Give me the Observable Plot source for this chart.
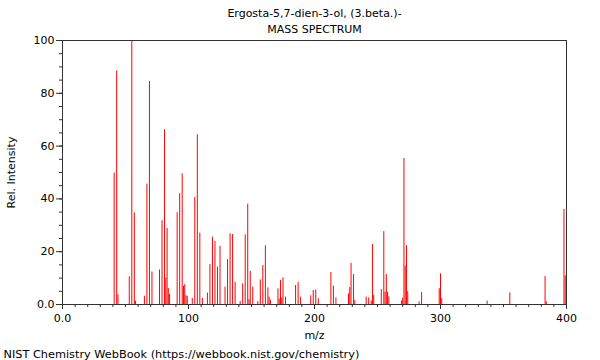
<!DOCTYPE html>
<html>
<head>
<meta charset="utf-8">
<script src="https://cdn.jsdelivr.net/npm/d3@7"></script>
<script src="https://cdn.jsdelivr.net/npm/@observablehq/plot@0.6"></script>
<style>
  html, body { margin: 0; padding: 0; background: #fff; }
  #chart svg { display: block; }
</style>
</head>
<body>
<div id="chart"></div>
<script>
const titleLines = ["Ergosta-5,7-dien-3-ol, (3.beta.)-", "MASS SPECTRUM"];
const xLabel = "m/z";
const yLabel = "Rel. Intensity";
const caption = "NIST Chemistry WebBook (https://webbook.nist.gov/chemistry)";

const mz = [41, 43, 44, 53, 55, 57, 58, 65, 67, 69, 71, 77, 79, 81, 82, 83, 84, 85,
  91, 93, 95, 96, 97, 98, 99, 103, 105, 107, 109, 111, 115, 117, 119, 121, 123, 125,
  129, 131, 133, 135, 137, 141, 143, 145, 147, 148, 149, 151, 155, 157, 159, 161, 163,
  164, 165, 171, 172, 173, 174, 175, 177, 185, 187, 189, 197, 199, 201, 203, 213, 215,
  217, 227, 228, 229, 231, 232, 241, 243, 245, 246, 247, 253, 255, 256, 257, 258, 259,
  269, 270, 271, 272, 273, 274, 283, 285, 299, 300, 301, 337, 355, 383, 384, 398, 399];
const intensity = [49.8, 88.5, 3.7, 10.5, 100, 34.7, 1.3, 3.1, 45.6, 84.5, 12.3, 13.1, 31.7, 66.2, 10, 28.8, 6, 3.8,
  34.8, 42, 49.5, 6.9, 7.5, 3.3, 3.1, 2.3, 40.6, 64.3, 27, 2.3, 4.3, 15.1, 25.5, 23.9, 14.1, 22,
  6.6, 17, 26.8, 26.5, 8.4, 1.1, 7.8, 26.4, 38, 1.8, 12.5, 6.6, 1.1, 9.3, 14.8, 22.2, 6.3,
  2.8, 1.6, 5.9, 2, 9.1, 2.5, 10.1, 2.8, 7.2, 8.3, 2.8, 3.3, 5.3, 5.5, 2.2, 12.1, 7,
  2.5, 4, 6.4, 15.6, 11.3, 1.5, 2.8, 2.5, 1.3, 22.7, 3.5, 5.7, 27.6, 4.7, 11.4, 4.7, 2.9,
  1.3, 2.4, 55.3, 14.6, 22.3, 4.9, 1, 4.5, 6, 11.6, 2.2, 1.3, 4.4, 10.6, 1, 36, 10.9];

const xTicks = [0, 100, 200, 300, 400];
const xTickLabels = ["0.0", "100", "200", "300", "400"];
const yTicks = [0, 20, 40, 60, 80, 100];
const yTickLabels = ["0.0", "20", "40", "60", "80", "100"];
const xMinorTicks = d3.range(0, 401, 10);
const yMinorTicks = d3.range(0, 101, 5);

const peaks = mz.map((m, i) => ({mz: m, intensity: intensity[i]}));

const chart = Plot.plot({
  width: 600,
  height: 360,
  marginLeft: 62,
  marginRight: 34,
  marginTop: 40,
  marginBottom: 56,
  style: {fontFamily: "DejaVu Sans", fontSize: "11px", color: "#000", background: "#fff"},
  x: {domain: [0, 400]},
  y: {domain: [0, 100]},
  marks: [
    Plot.ruleX(peaks, {x: "mz", y1: 0, y2: "intensity", stroke: "#ff0000", strokeWidth: 1}),
    Plot.frame({stroke: "#333"}),
    Plot.axisX({ticks: xMinorTicks, tickSize: 3, tickFormat: () => "", label: null, stroke: "#333"}),
    Plot.axisX({ticks: xTicks, tickSize: 5, tickPadding: 5, tickFormat: d => xTickLabels[xTicks.indexOf(d)], label: null, stroke: "#333", fill: "#000"}),
    Plot.axisY({ticks: yMinorTicks, tickSize: 3, tickFormat: () => "", label: null, stroke: "#333"}),
    Plot.axisY({ticks: yTicks, tickSize: 6, tickPadding: 2, tickFormat: d => yTickLabels[yTicks.indexOf(d)], label: null, stroke: "#333", fill: "#000"}),
    Plot.text([titleLines[0]], {text: d => d, frameAnchor: "top", dy: -31, fill: "#000", fontSize: 11}),
    Plot.text([titleLines[1]], {text: d => d, frameAnchor: "top", dy: -15, fill: "#000", fontSize: 11}),
    Plot.text([xLabel], {text: d => d, frameAnchor: "bottom", dy: 34, fill: "#000", fontSize: 11}),
    Plot.text([yLabel], {text: d => d, frameAnchor: "left", dx: -51, rotate: -90, textAnchor: "middle", fill: "#000", fontSize: 11}),
    Plot.text([caption], {text: d => d, frameAnchor: "bottom-left", dx: -59, dy: 53, textAnchor: "start", fill: "#000", fontSize: 11.3})
  ]
});
document.getElementById("chart").appendChild(chart);
</script>
</body>
</html>
